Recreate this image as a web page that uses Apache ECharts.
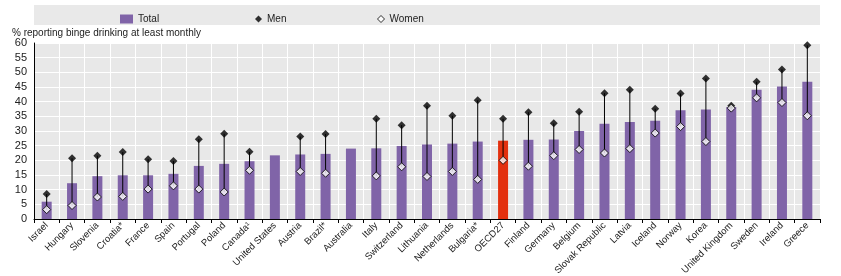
<!DOCTYPE html>
<html>
<head>
<meta charset="utf-8">
<script src="https://cdn.jsdelivr.net/npm/echarts@6/dist/echarts.min.js"></script>
<style>
  html, body { margin: 0; padding: 0; background: #fff; }
  #main { width: 841px; height: 276px; }
</style>
</head>
<body>
<div id="main"></div>
<script>
// countries, sorted by total
var countries = ["Israel", "Hungary", "Slovenia", "Croatia*", "France", "Spain", "Portugal", "Poland", "Canada¹",
  "United States", "Austria", "Brazil*", "Australia", "Italy", "Switzerland", "Lithuania", "Netherlands",
  "Bulgaria*", "OECD27", "Finland", "Germany", "Belgium", "Slovak Republic", "Latvia", "Iceland", "Norway",
  "Korea", "United Kingdom", "Sweden", "Ireland", "Greece"];
var total = [5.9, 12.2, 14.6, 14.9, 14.9, 15.4, 18.1, 18.8, 19.7, 21.7, 22.0, 22.2, 24.0, 24.1, 24.9, 25.4, 25.7,
  26.4, 26.7, 27.0, 27.1, 30.0, 32.5, 33.1, 33.5, 37.1, 37.3, 38.2, 44.1, 45.2, 46.8];
var men = [8.5, 20.7, 21.6, 22.8, 20.4, 19.8, 27.2, 29.1, 22.9, null, 28.1, 29.0, null, 34.2, 32.0, 38.6, 35.2,
  40.5, 34.2, 36.4, 32.6, 36.6, 42.9, 44.1, 37.6, 42.8, 47.9, 38.6, 46.8, 51.0, 59.2];
var women = [3.2, 4.6, 7.5, 7.7, 10.2, 11.3, 10.2, 9.2, 16.6, null, 16.2, 15.6, null, 14.7, 17.8, 14.5, 16.2,
  13.5, 20.0, 18.0, 21.6, 23.7, 22.5, 24.0, 29.3, 31.5, 26.4, 37.8, 41.3, 39.7, 35.2];

var chart = echarts.init(document.getElementById("main"));

var purple = "#8064a8";
var red = "#e3300e";

var rangeData = [];
for (var i = 0; i < countries.length; i++) {
  if (men[i] != null && women[i] != null) rangeData.push([i, women[i], men[i]]);
}

var legendText = { fontSize: 10, color: "#222" };

var option = {
  animation: false,
  textStyle: { fontFamily: "Liberation Sans, Arial, sans-serif" },
  graphic: [
    { type: "rect", shape: { x: 34, y: 5, width: 786, height: 20 }, style: { fill: "#e9e9e9" }, z: -1 },
    { type: "text", left: 12, top: 28, style: { text: "% reporting binge drinking at least monthly", fontSize: 10, fill: "#222", fontFamily: "Liberation Sans" } }
  ],
  legend: [
    {
      top: 9, left: 115, itemWidth: 13, itemHeight: 9, itemGap: 5,
      textStyle: legendText,
      data: [{ name: "Total", icon: "rect" }]
    },
    {
      top: 9, left: 250, itemWidth: 7, itemHeight: 7,
      textStyle: legendText,
      data: [{ name: "Men", icon: "diamond", itemStyle: { color: "#000" } }]
    },
    {
      top: 9, left: 372, itemWidth: 7, itemHeight: 7,
      textStyle: legendText,
      data: [{ name: "Women", icon: "diamond", itemStyle: { color: "#fff", borderColor: "#000", borderWidth: 1 } }]
    }
  ],
  grid: {
    left: 34, right: 21, top: 43, bottom: 57,
    outerBoundsMode: "none",
    containLabel: false,
    show: true, backgroundColor: "#e8e8e8", borderWidth: 0
  },
  xAxis: {
    type: "category",
    data: countries,
    axisLine: { lineStyle: { color: "#000", width: 1 } },
    axisTick: { show: true, alignWithLabel: false, length: 4, lineStyle: { color: "#000" } },
    splitLine: { show: true, lineStyle: { color: "#fff", width: 1 } },
    axisLabel: { interval: 0, rotate: 45, fontSize: 9.5, color: "#222", margin: 5 }
  },
  yAxis: {
    type: "value",
    min: 0, max: 60, interval: 5,
    axisLine: { show: true, lineStyle: { color: "#000" } },
    axisTick: { show: false },
    splitLine: { lineStyle: { color: "#fff", width: 1 } },
    axisLabel: { fontSize: 11, color: "#222", margin: 7 }
  },
  series: [
    {
      name: "Total",
      type: "bar",
      barWidth: 10,
      itemStyle: { color: purple },
      data: total.map(function (v, i) {
        return countries[i] === "OECD27" ? { value: v, itemStyle: { color: red } } : v;
      }),
      z: 2
    },
    {
      name: "range",
      type: "custom",
      renderItem: function (params, api) {
        var lo = api.coord([api.value(0), api.value(1)]);
        var hi = api.coord([api.value(0), api.value(2)]);
        return {
          type: "line",
          shape: { x1: lo[0], y1: lo[1], x2: hi[0], y2: hi[1] },
          style: { stroke: "#000", lineWidth: 1 }
        };
      },
      encode: { x: 0, y: [1, 2] },
      data: rangeData,
      z: 3
    },
    {
      name: "Men",
      type: "scatter",
      symbol: "diamond",
      symbolSize: 8,
      itemStyle: { color: "#000" },
      data: men,
      z: 4
    },
    {
      name: "Women",
      type: "scatter",
      symbol: "diamond",
      symbolSize: 8,
      itemStyle: { color: "#fff", borderColor: "#000", borderWidth: 1 },
      data: women,
      z: 5
    }
  ]
};

chart.setOption(option);
</script>
</body>
</html>
